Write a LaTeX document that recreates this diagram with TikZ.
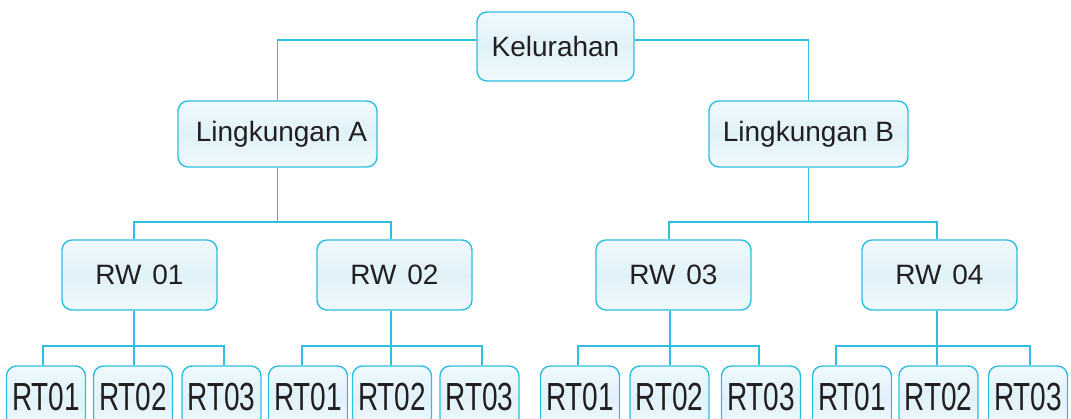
\documentclass[tikz,border=0pt]{standalone}
\usepackage{fontspec}
\newfontfamily\arialf{Liberation Sans}
\definecolor{boxline}{RGB}{45,190,225}
\definecolor{boxtop}{RGB}{240,249,252}
\definecolor{boxmid}{RGB}{224,242,249}
\definecolor{boxbot}{RGB}{240,249,252}
\definecolor{ink}{RGB}{35,31,32}
\begin{document}
\begin{tikzpicture}[x=1pt,y=-1pt,
  org/.style={draw=boxline,line width=1.4pt,rounded corners=10pt,
    top color=boxtop,bottom color=boxbot,middle color=boxmid,inner sep=0pt,
    font=\arialf\fontsize{28}{28}\selectfont,text=ink},
  lvlone/.style={org,minimum width=157pt,minimum height=69pt},
  lvltwo/.style={org,minimum width=199pt,minimum height=66pt},
  lvlthree/.style={org,minimum width=155pt,minimum height=70pt},
  lvlfour/.style={org,minimum width=79pt,minimum height=62pt},
  conn/.style={draw=boxline,line width=1.3pt}]
\useasboundingbox (0,0) rectangle (1071,418);
\begin{scope}
\clip (0,0) rectangle (1071,418);
% top
\node[lvlone] (kel) at (555.5,46.5) {Kelurahan};
% level 2
\node[lvltwo] (la) at (277.5,134) {\hspace*{8pt}Lingkungan A};
\node[lvltwo] (lb) at (808.5,134) {Lingkungan B};
% level 3
\newcommand\rwlabel[1]{RW\hspace{3pt} #1}
\node[lvlthree] (rw1) at (139.5,275) {\rwlabel{01}};
\node[lvlthree] (rw2) at (394.5,275) {\rwlabel{02}};
\node[lvlthree] (rw3) at (673.5,275) {\rwlabel{03}};
\node[lvlthree] (rw4) at (939.5,275) {\rwlabel{04}};
% level 4
\newcommand\rtlabel[1]{\scalebox{1}[1.4]{#1}}
\node[lvlfour] (t11) at (46,397) {\rtlabel{RT01}};
\node[lvlfour] (t12) at (133,397) {\rtlabel{RT02}};
\node[lvlfour] (t13) at (221.5,397) {\rtlabel{RT03}};
\node[lvlfour] (t21) at (308,397) {\rtlabel{RT01}};
\node[lvlfour] (t22) at (392,397) {\rtlabel{RT02}};
\node[lvlfour] (t23) at (479.5,397) {\rtlabel{RT03}};
\node[lvlfour] (t31) at (580,397) {\rtlabel{RT01}};
\node[lvlfour] (t32) at (669.5,397) {\rtlabel{RT02}};
\node[lvlfour] (t33) at (761,397) {\rtlabel{RT03}};
\node[lvlfour] (t41) at (852,397) {\rtlabel{RT01}};
\node[lvlfour] (t42) at (938.5,397) {\rtlabel{RT02}};
\node[lvlfour] (t43) at (1028,397) {\rtlabel{RT03}};
% bars
\coordinate (bl) at (0,222);
\coordinate (br) at (0,346);
% Kelurahan to Lingkungan
\draw[conn] ([yshift=6.5pt]kel.west) -| (la.north);
\draw[conn] ([yshift=6.5pt]kel.east) -| (lb.north);
% Lingkungan to RW
\draw[conn] (la.south) -- (la.south |- bl);
\draw[conn] ([xshift=-5.5pt]rw1.north) -- ([xshift=-5.5pt]rw1.north |- bl)
  -- ([xshift=-3.5pt]rw2.north |- bl) -- ([xshift=-3.5pt]rw2.north);
\draw[conn] (lb.south) -- (lb.south |- bl);
\draw[conn] ([xshift=-4.5pt]rw3.north) -- ([xshift=-4.5pt]rw3.north |- bl)
  -- ([xshift=-2.5pt]rw4.north |- bl) -- ([xshift=-2.5pt]rw4.north);
% RW to RT
\draw[conn] ([xshift=-5.5pt]rw1.south) -- ([xshift=-5.5pt]rw1.south |- br);
\draw[conn] ([xshift=-3pt]t11.north) -- ([xshift=-3pt]t11.north |- br)
  -- ([xshift=2.5pt]t13.north |- br) -- ([xshift=2.5pt]t13.north);
\draw[conn] ([xshift=1pt]t12.north) -- ([xshift=1pt]t12.north |- br);
\draw[conn] ([xshift=-3.5pt]rw2.south) -- ([xshift=-3.5pt]rw2.south |- br);
\draw[conn] ([xshift=-6pt]t21.north) -- ([xshift=-6pt]t21.north |- br)
  -- ([xshift=2.5pt]t23.north |- br) -- ([xshift=2.5pt]t23.north);
\draw[conn] ([xshift=-1pt]t22.north) -- ([xshift=-1pt]t22.north |- br);
\draw[conn] ([xshift=-3.5pt]rw3.south) -- ([xshift=-3.5pt]rw3.south |- br);
\draw[conn] ([xshift=-2pt]t31.north) -- ([xshift=-2pt]t31.north |- br)
  -- ([xshift=-2pt]t33.north |- br) -- ([xshift=-2pt]t33.north);
\draw[conn] ([xshift=0.5pt]t32.north) -- ([xshift=0.5pt]t32.north |- br);
\draw[conn] ([xshift=-2.5pt]rw4.south) -- ([xshift=-2.5pt]rw4.south |- br);
\draw[conn] ([xshift=-16pt]t41.north) -- ([xshift=-16pt]t41.north |- br)
  -- ([xshift=2pt]t43.north |- br) -- ([xshift=2pt]t43.north);
\draw[conn] ([xshift=-1.5pt]t42.north) -- ([xshift=-1.5pt]t42.north |- br);
\end{scope}
\end{tikzpicture}
\end{document}
